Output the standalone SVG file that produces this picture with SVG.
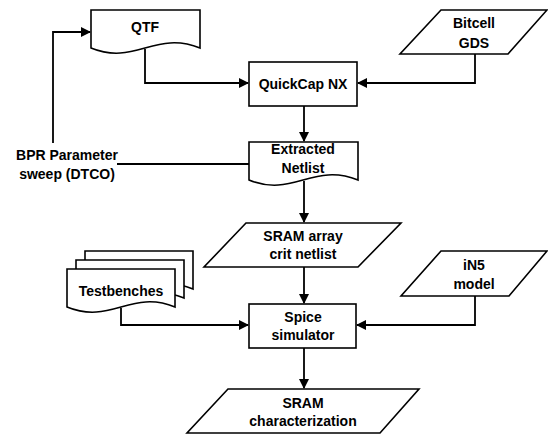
<svg xmlns="http://www.w3.org/2000/svg" width="548" height="434" viewBox="0 0 548 434">
<style>
.s{fill:#fff;stroke:#000;stroke-width:1.6;stroke-linejoin:miter}
.c{fill:none;stroke:#000;stroke-width:1.8}
text{font-family:"Liberation Sans",Arial,sans-serif;font-weight:bold;font-size:14px;fill:#000;text-anchor:middle}
</style>
<defs>
<marker id="ah" markerWidth="10" markerHeight="10" refX="9" refY="5" orient="auto" markerUnits="userSpaceOnUse">
<path d="M0,0 L10,5 L0,10 Z" fill="#000"/>
</marker>
</defs>
<rect width="548" height="434" fill="#fff"/>
<g id="connectors">
<path class="c" d="M145,49 V83 H248" marker-end="url(#ah)"/>
<path class="c" d="M475,54 V83 H358" marker-end="url(#ah)"/>
<path class="c" d="M304,106 V141" marker-end="url(#ah)"/>
<path class="c" d="M117,164 H249"/>
<path class="c" d="M53,143 V32 H90" marker-end="url(#ah)"/>
<path class="c" d="M304,181 V222" marker-end="url(#ah)"/>
<path class="c" d="M304,267 V303" marker-end="url(#ah)"/>
<path class="c" d="M475,296 V325 H357" marker-end="url(#ah)"/>
<path class="c" d="M121,308 V325 H248" marker-end="url(#ah)"/>
<path class="c" d="M304,348 V388" marker-end="url(#ah)"/>
</g>
<g id="qtf">
<path class="s" d="M91,10 H200 V48 C155,30 135,66 91,48 Z"/>
<text x="145" y="32">QTF</text>
</g>
<g id="quickcap">
<rect class="s" x="249" y="62" width="108" height="44"/>
<text x="303" y="89">QuickCap NX</text>
</g>
<g id="bitcell">
<path class="s" d="M441,10 H547 L508,54 H400 Z"/>
<text x="474" y="28">Bitcell</text>
<text x="474" y="48">GDS</text>
</g>
<g id="extracted">
<path class="s" d="M249,142 H358 V180 C313,162 293,198 249,180 Z"/>
<text x="303" y="154">Extracted</text>
<text x="303" y="173">Netlist</text>
</g>
<g id="bpr">
<text x="67" y="160">BPR Parameter</text>
<text x="67" y="179">sweep (DTCO)</text>
</g>
<g id="sram-array">
<path class="s" d="M246,223 H401 L358,267 H204 Z"/>
<text x="303" y="241">SRAM array</text>
<text x="303" y="259">crit netlist</text>
</g>
<g id="testbenches">
<path class="s" d="M85,251 H193 V289 C149,271 129,307 85,289 Z"/>
<path class="s" d="M76,260 H184 V298 C140,280 120,316 76,298 Z"/>
<path class="s" d="M67,269 H175 V307 C131,289 111,325 67,307 Z"/>
<text x="121" y="296">Testbenches</text>
</g>
<g id="in5">
<path class="s" d="M441,251 H547 L509,296 H401 Z"/>
<text x="474" y="270">iN5</text>
<text x="474" y="289">model</text>
</g>
<g id="spice">
<rect class="s" x="249" y="304" width="107" height="44"/>
<text x="303" y="322">Spice</text>
<text x="303" y="340">simulator</text>
</g>
<g id="sram-char">
<path class="s" d="M228,389 H419 L380,433 H187 Z"/>
<text x="303" y="408">SRAM</text>
<text x="303" y="426">characterization</text>
</g>
</svg>
